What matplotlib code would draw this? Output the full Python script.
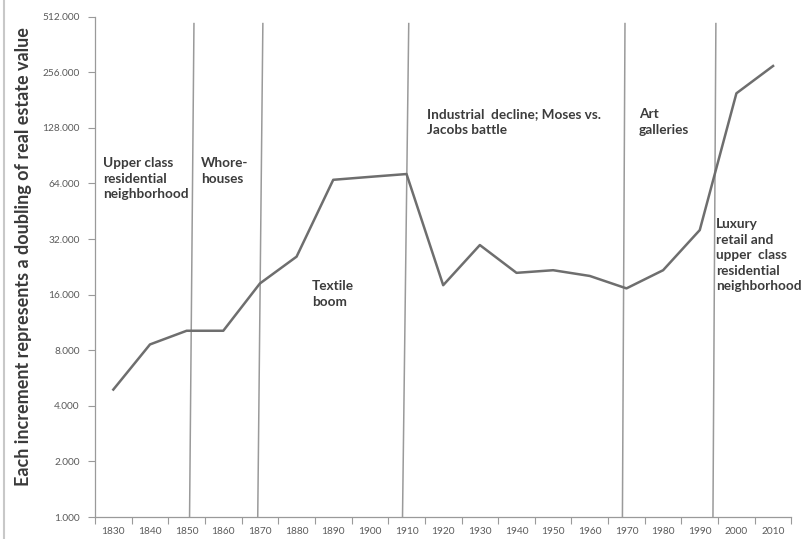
import numpy as np
import matplotlib
matplotlib.use('Agg')
import matplotlib.pyplot as plt
from matplotlib.ticker import FixedLocator, FuncFormatter, NullFormatter

plt.rcParams['font.family'] = ['Lato', 'DejaVu Sans']

# data
years  = [1830, 1840, 1850, 1860, 1870, 1880, 1890, 1900, 1910, 1920,
          1930, 1940, 1950, 1960, 1970, 1980, 1990, 2000, 2010]
values = [4.9, 8.6, 10.2, 10.2, 18.4, 25.7, 67.0, 69.5, 72.0, 18.0,
          29.7, 21.0, 21.7, 20.2, 17.3, 21.7, 35.8, 197.0, 277.0]
yticks = [1, 2, 4, 8, 16, 32, 64, 128, 256, 512]

# era dividers (bottom year, top year) - scanned lines lean a little
dividers = [(1850.8, 1852.0), (1869.4, 1870.8), (1908.9, 1910.6),
            (1968.9, 1969.6), (1993.6, 1994.4)]

eras = [
    (1827.2, 89,  'Upper class\nresidential\nneighborhood'),
    (1853.9, 89,  'Whore-\nhouses'),
    (1884.2, 19.2, 'Textile\nboom'),
    (1915.6, 164, 'Industrial  decline; Moses vs.\nJacobs battle'),
    (1973.4, 164, 'Art\ngalleries'),
    (1994.4, 41.6, 'Luxury\nretail and\nupper  class\nresidential\nneighborhood'),
]

fig = plt.figure(figsize=(8.01, 5.39), dpi=100)
ax = fig.add_axes([0.1186, 0.0408, 0.8694, 0.9282])

ax.plot(years, values, color='#6e6e6e', lw=1.8, zorder=3)

for xb, xt in dividers:
    ax.plot([xb, xt], [1, 470], color='#9a9a9a', lw=1.1, zorder=2)

for x, y, txt in eras:
    ax.text(x, y, txt, fontsize=9.8, fontweight='bold', color='#3c3c3c',
            va='top', ha='left', linespacing=1.35, zorder=4)

ax.set_yscale('log', base=2)
ax.set_ylim(1, 512)
ax.set_xlim(1825, 2015)

ax.yaxis.set_major_locator(FixedLocator(yticks))
ax.yaxis.set_minor_locator(FixedLocator([]))
ax.yaxis.set_major_formatter(FuncFormatter(lambda v, p: '%d.000' % v))
ax.set_xticks(years)
ax.set_xticklabels([str(y) for y in years])
ax.xaxis.set_minor_locator(FixedLocator(np.arange(1825, 2016, 10)))
ax.xaxis.set_minor_formatter(NullFormatter())

ax.tick_params(axis='y', which='major', length=5, width=0.8, color='#9a9a9a',
               labelsize=7.3, labelcolor='#5a5a5a', pad=6)
ax.tick_params(axis='x', which='major', length=0, labelsize=7.3,
               labelcolor='#5a5a5a', pad=7)
ax.tick_params(axis='x', which='minor', length=5, width=0.8, color='#9a9a9a')

for s in ['top', 'right']:
    ax.spines[s].set_visible(False)
for s in ['left', 'bottom']:
    ax.spines[s].set_color('#9a9a9a')
    ax.spines[s].set_linewidth(0.9)

ax.set_ylabel('Each increment represents a doubling of real estate value',
              fontsize=13, fontweight='bold', color='#3a3a3a', labelpad=5)
ax.yaxis.set_label_coords(-0.091, 0.52)

# scan border at the far left
fig.add_artist(plt.Line2D([0.005, 0.005], [0, 1], color='#c8c8c8', lw=1.5))

plt.savefig('out.png', dpi=100)
plt.close()
